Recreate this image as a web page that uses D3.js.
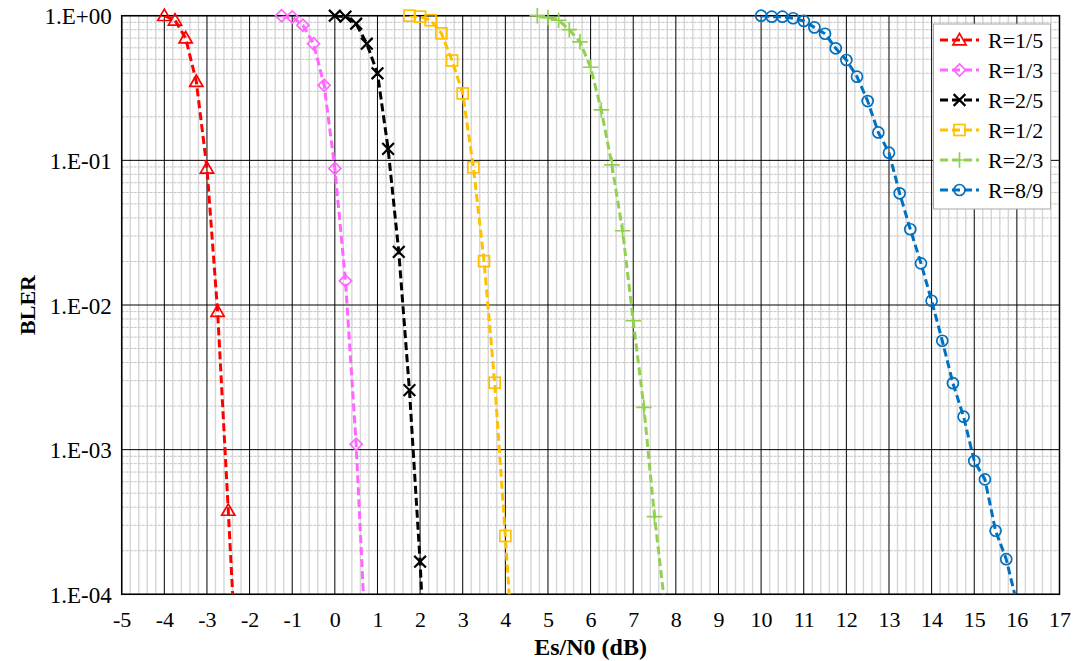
<!DOCTYPE html>
<html><head><meta charset="utf-8">
<script src="https://cdn.jsdelivr.net/npm/d3@7"></script>
<style>html,body{margin:0;padding:0;background:#fff}</style>
</head><body>
<svg id="c" width="1075" height="661"></svg>
<script>
// ---- data ----
const seriesNames = ["R=1/5","R=1/3","R=2/5","R=1/2","R=2/3","R=8/9"];
const xR15 = [-4,-3.75,-3.5,-3.25,-3,-2.75,-2.5,-2.25];
const yR15 = [1.0,0.93,0.70,0.35,0.088,0.0090,3.8e-4,1.5e-5];
const xR13 = [-1.25,-1,-0.75,-0.5,-0.25,0,0.25,0.5,0.75];
const yR13 = [1.0,0.98,0.86,0.64,0.33,0.088,0.0147,0.00109,3.2e-5];
const xR25 = [0,0.25,0.5,0.75,1,1.25,1.5,1.75,2,2.25];
const yR25 = [1.0,0.985,0.88,0.64,0.40,0.12,0.0233,0.00258,1.68e-4,5e-6];
const xR12 = [1.75,2,2.25,2.5,2.75,3,3.25,3.5,3.75,4,4.25];
const yR12 = [1.0,0.985,0.93,0.755,0.49,0.29,0.0895,0.0201,0.0029,2.53e-4,1.9e-5];
const xR23 = [4.75,5,5.25,5.5,5.75,6,6.25,6.5,6.75,7,7.25,7.5,7.75];
const yR23 = [1.0,0.97,0.93,0.80,0.66,0.44,0.223,0.093,0.0326,0.00778,0.00196,3.44e-4,8e-5];
const xR89 = [10,10.25,10.5,10.75,11,11.25,11.5,11.75,12,12.25,12.5,12.75,13,13.25,13.5,13.75,14,14.25,14.5,14.75,15,15.25,15.5,15.75,16];
const yR89 = [1.0,0.985,0.985,0.96,0.92,0.83,0.75,0.595,0.494,0.379,0.257,0.156,0.113,0.0592,0.0334,0.0194,0.0107,0.00566,0.00288,0.00169,8.35e-4,6.23e-4,2.75e-4,1.75e-4,8.7e-5];
const xTicks = d3.range(-5, 18, 1);
const xTickLabels = ["-5","-4","-3","-2","-1","0","1","2","3","4","5","6","7","8","9","10","11","12","13","14","15","16","17"];
const yTicks = [1, 0.1, 0.01, 0.001, 0.0001];
const yTickLabels = ["1.E+00","1.E-01","1.E-02","1.E-03","1.E-04"];
const xTitle = "Es/N0 (dB)";
const yTitle = "BLER";

// ---- styles ----
const colors = ["#FF0000","#FF66FF","#000000","#FFC000","#92D050","#0070C0"];
const markers = ["triangle","diamond","x","square","plus","circle"];
const xs = [xR15,xR13,xR25,xR12,xR23,xR89];
const ys = [yR15,yR13,yR25,yR12,yR23,yR89];

const L = 121.7, R = 1059.5, T = 15.7, B = 594.3;
const FONT = "Liberation Serif, Times New Roman, serif";

const svg = d3.select("#c");
const x = d3.scaleLinear().domain([-5,17]).range([L,R]);
const y = d3.scaleLog().domain([1e-4,1]).range([B,T]);

// grid
const g = svg.append("g");
g.selectAll(".vmin").data(d3.range(-5,17.001,0.2).filter(v=>Math.abs(v-Math.round(v))>1e-6))
 .join("line").attr("x1",d=>x(d)).attr("x2",d=>x(d)).attr("y1",T).attr("y2",B)
 .attr("stroke","#d6d6d6").attr("stroke-width",1.4);
const hmin=[]; for(let d=-4; d<0; d++) for(let k=2;k<=9;k++) hmin.push(k*Math.pow(10,d));
g.selectAll(".hmin").data(hmin).join("line")
 .attr("x1",L).attr("x2",R).attr("y1",d=>y(d)).attr("y2",d=>y(d))
 .attr("stroke","#c4c4c4").attr("stroke-width",1).attr("stroke-dasharray","3,1");
g.selectAll(".vmaj").data(xTicks).join("line").attr("x1",d=>x(d)).attr("x2",d=>x(d)).attr("y1",T).attr("y2",B)
 .attr("stroke","#000").attr("stroke-width",1);
g.selectAll(".hmaj").data(yTicks).join("line").attr("x1",L).attr("x2",R).attr("y1",d=>y(d)).attr("y2",d=>y(d))
 .attr("stroke","#000").attr("stroke-width",1);
svg.append("rect").attr("x",L).attr("y",T).attr("width",R-L).attr("height",B-T)
 .attr("fill","none").attr("stroke","#000").attr("stroke-width",1.5);

// axes
const xAxis = svg.append("g").attr("transform",`translate(0,${B})`)
 .call(d3.axisBottom(x).tickValues(xTicks).tickFormat((d,i)=>xTickLabels[i]).tickSize(0).tickPadding(0));
xAxis.select(".domain").remove();
xAxis.selectAll("text").attr("font-family",FONT).attr("font-size",22).attr("fill","#000")
 .attr("y",33).attr("dy",0);
const yAxis = svg.append("g").attr("transform",`translate(${L},0)`)
 .call(d3.axisLeft(y).tickValues(yTicks).tickFormat((d,i)=>yTickLabels[i]).tickSize(0).tickPadding(10));
yAxis.select(".domain").remove();
yAxis.selectAll("text").attr("font-family",FONT).attr("font-size",23).attr("fill","#000").attr("dy","0.35em");

svg.append("text").text(xTitle).attr("font-family",FONT).attr("font-weight","bold").attr("font-size",24)
 .attr("text-anchor","middle").attr("x",(L+R)/2).attr("y",655);
svg.append("text").text(yTitle).attr("font-family",FONT).attr("font-weight","bold").attr("font-size",22)
 .attr("text-anchor","middle").attr("transform",`translate(35,${(T+B)/2}) rotate(-90)`);

svg.append("clipPath").attr("id","clip").append("rect").attr("x",L).attr("y",T).attr("width",R-L).attr("height",B-T);

function drawMarker(sel, type, color, s){
  sel.attr("fill","none").attr("stroke",color).attr("stroke-width",1.7);
  if(type==="circle") sel.append("circle").attr("r",s*0.5);
  else if(type==="square") sel.append("rect").attr("x",-s*0.5).attr("y",-s*0.5).attr("width",s).attr("height",s);
  else if(type==="diamond") sel.append("path").attr("d",`M0,${-s*0.55}L${s*0.55},0L0,${s*0.55}L${-s*0.55},0Z`);
  else if(type==="triangle") sel.append("path").attr("d",`M0,${-s*0.55}L${s*0.55},${s*0.4}L${-s*0.55},${s*0.4}Z`);
  else if(type==="x") sel.append("path").attr("d",`M${-s*0.45},${-s*0.45}L${s*0.45},${s*0.45}M${s*0.45},${-s*0.45}L${-s*0.45},${s*0.45}`).attr("stroke-width",2.2);
  else if(type==="plus") sel.append("path").attr("d",`M${-s*0.6},0L${s*0.6},0M0,${-s*0.6}L0,${s*0.6}`).attr("stroke-width",1.7);
}
const msize = [12,11,13,11,13,11];

const line = d3.line().x(d=>x(d[0])).y(d=>y(d[1]));
seriesNames.forEach((name,i)=>{
  const pts = xs[i].map((v,j)=>[v,ys[i][j]]);
  svg.append("path").datum(pts).attr("d",line).attr("clip-path","url(#clip)")
   .attr("fill","none").attr("stroke",colors[i]).attr("stroke-width",3).attr("stroke-dasharray","8,4");
  svg.append("g").selectAll("g").data(pts.filter(p=>p[1]>=1e-4)).join("g")
   .attr("transform",d=>`translate(${x(d[0])},${y(d[1])})`)
   .each(function(){drawMarker(d3.select(this),markers[i],colors[i],msize[i]);});
});

// legend
const lg = svg.append("g");
lg.append("rect").attr("x",933.5).attr("y",24).attr("width",117).attr("height",185)
 .attr("fill","#fff").attr("stroke","#a6a6a6").attr("stroke-width",1);
seriesNames.forEach((name,i)=>{
  const cy = 40 + i*30;
  lg.append("line").attr("x1",940).attr("x2",979).attr("y1",cy).attr("y2",cy)
   .attr("stroke",colors[i]).attr("stroke-width",3).attr("stroke-dasharray","8,4");
  drawMarker(lg.append("g").attr("transform",`translate(959.5,${cy})`),markers[i],colors[i],msize[i]);
  lg.append("text").text(name).attr("font-family",FONT).attr("font-size",22).attr("dy","0.35em")
   .attr("x",988).attr("y",cy);
});
</script>
</body></html>
